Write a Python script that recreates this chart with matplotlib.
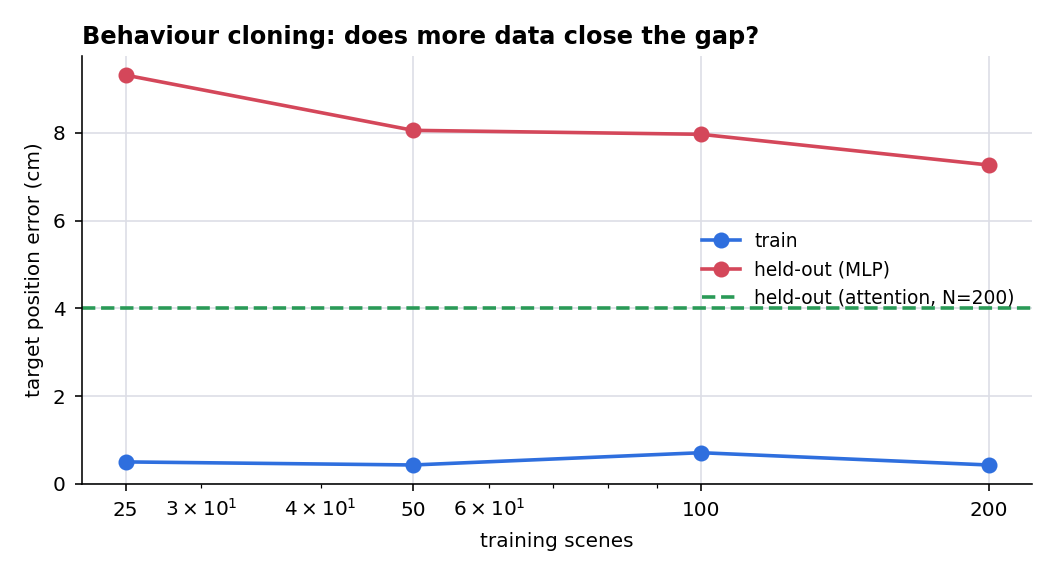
import matplotlib
matplotlib.use('Agg')
import matplotlib.pyplot as plt
from matplotlib.ticker import FixedLocator, FixedFormatter

scenes = [25, 50, 100, 200]
train_err = [0.50, 0.43, 0.71, 0.43]
heldout_mlp = [9.32, 8.06, 7.97, 7.27]
attention_n200 = 4.01
tick_labels = ['25', '50', '100', '200']

plt.rcParams['xtick.major.pad'] = 5
plt.rcParams['xtick.minor.pad'] = 5
plt.rcParams['ytick.major.pad'] = 5

fig, ax = plt.subplots(figsize=(1056 / 144, 4.0), dpi=144)
fig.subplots_adjust(left=0.078, right=0.977, top=0.9035, bottom=0.16)

ax.plot(scenes, train_err, '-o', color='#2f6fde', lw=1.8, ms=7, label='train')
ax.plot(scenes, heldout_mlp, '-o', color='#d4475a', lw=1.8, ms=7, label='held-out (MLP)')
ax.axhline(attention_n200, color='#2a9a57', ls='--', lw=1.8, label='held-out (attention, N=200)')

ax.set_xscale('log')
ax.xaxis.set_major_locator(FixedLocator(scenes))
ax.xaxis.set_major_formatter(FixedFormatter(tick_labels))
ax.set_ylim(bottom=0)

ax.grid(True, which='major', color='#dcdde6', lw=0.8)
ax.set_axisbelow(True)
for s in ['top', 'right']:
    ax.spines[s].set_visible(False)

ax.set_xlabel('training scenes', labelpad=6)
ax.set_ylabel('target position error (cm)')
ax.set_title('Behaviour cloning: does more data close the gap?', loc='left',
             fontweight='bold', fontsize=12)
ax.legend(frameon=False, loc='center right', fontsize=9.3)

fig.savefig('out.png')
